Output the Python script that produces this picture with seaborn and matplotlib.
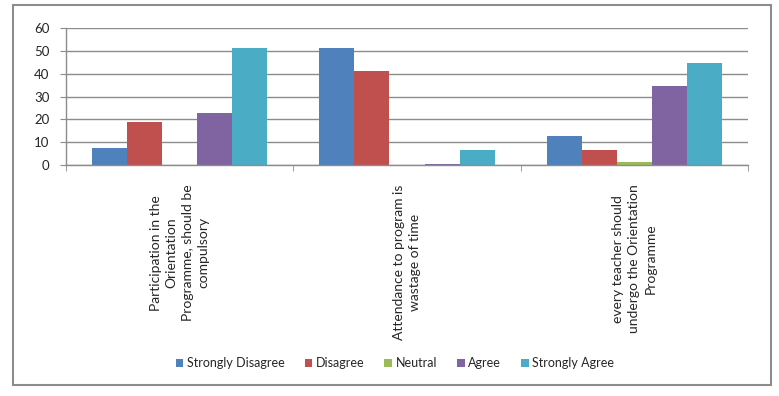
import matplotlib
matplotlib.use("Agg")
import matplotlib.pyplot as plt
from matplotlib.patches import Rectangle
import seaborn as sns
import pandas as pd

categories = [
    "Participation in the\nOrientation\nProgramme, should be\ncompulsory",
    "Attendance to program is\nwastage of time",
    "every teacher should\nundergo the Orientation\nProgramme",
]
responses = ["Strongly Disagree", "Disagree", "Neutral", "Agree", "Strongly Agree"]
strongly_disagree = [7.5, 51.4, 12.7]
disagree = [18.7, 41.3, 6.7]
neutral = [0.0, 0.0, 1.4]
agree = [22.6, 0.6, 34.6]
strongly_agree = [51.4, 6.6, 44.7]
yticks = [0, 10, 20, 30, 40, 50, 60]
colors = ["#4F81BD", "#C0504D", "#9BBB59", "#8064A2", "#4BACC6"]

series = [strongly_disagree, disagree, neutral, agree, strongly_agree]
rows = []
for r, vals in zip(responses, series):
    for c, v in zip(categories, vals):
        rows.append({"Statement": c, "Response": r, "Value": v})
df = pd.DataFrame(rows)

sns.set_style("white")
plt.rcParams["font.family"] = ["Lato", "DejaVu Sans"]

fig = plt.figure(figsize=(7.79, 3.96), dpi=100)
ax = fig.add_axes([66 / 779, 1 - 165 / 396, (748 - 66) / 779, (165 - 28) / 396])

sns.barplot(data=df, x="Statement", y="Value", hue="Response", order=categories,
            hue_order=responses, palette=colors, width=0.77, ax=ax,
            saturation=1, edgecolor="none", linewidth=0, errorbar=None)

ax.set_ylim(0, 60)
ax.set_xlim(-0.5, 2.5)
ax.set_yticks(yticks)
ax.set_yticklabels([str(t) for t in yticks], fontsize=9.5)
ax.yaxis.grid(True, color="#8c8c8c", linewidth=1)
ax.set_axisbelow(True)
ax.set_xlabel("")
ax.set_ylabel("")
for s in ["top", "right"]:
    ax.spines[s].set_visible(False)
for s in ["left", "bottom"]:
    ax.spines[s].set_color("#8c8c8c")
    ax.spines[s].set_linewidth(1)
ax.tick_params(axis="y", which="both", left=True, length=4, color="#8c8c8c", pad=8)
ax.set_xticks([0, 1, 2])
ax.set_xticklabels(categories, rotation=90, fontsize=10, ma="center", linespacing=1.4)
ax.tick_params(axis="x", which="major", length=0, pad=14)
ax.set_xticks([-0.5, 0.5, 1.5, 2.5], minor=True)
ax.tick_params(axis="x", which="minor", bottom=True, length=4, color="#8c8c8c")

leg = ax.get_legend()
handles, labels = ax.get_legend_handles_labels()
if leg is not None:
    leg.remove()
fig.legend(handles, labels, loc="center", bbox_to_anchor=(395 / 779, 1 - 363 / 396),
           ncol=5, frameon=False, fontsize=9, handlelength=0.6, handleheight=0.6,
           handletextpad=0.3, columnspacing=1.6)

fig.patches.append(Rectangle((13 / 779, 1 - 385 / 396), (771 - 13) / 779, 380 / 396,
                             transform=fig.transFigure, fill=False,
                             edgecolor="#8c8c8c", linewidth=1.5))

fig.savefig("out.png", dpi=100)
